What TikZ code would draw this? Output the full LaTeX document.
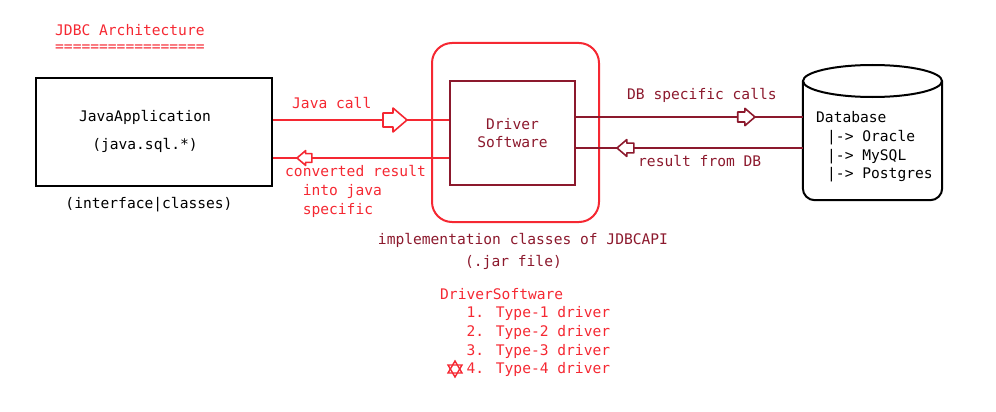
\documentclass[tikz,border=0pt]{standalone}
\usepackage{fontspec}
\setmainfont{DejaVu Sans Mono}
\usetikzlibrary{positioning}
\definecolor{jred}{RGB}{245,40,50}
\definecolor{jdark}{RGB}{140,25,45}

\begin{document}
\begin{tikzpicture}[x=1pt,y=-1pt,
  txt/.style={font=\fontsize{14.6}{18.6}\selectfont,inner sep=0pt},
  redtxt/.style={txt,text=jred},
  darktxt/.style={txt,text=jdark},
  box/.style={draw,line width=2pt,inner sep=0pt},
  wire/.style={line width=2pt},
  hollow/.pic={\draw[fill=white,line width=1.6pt,line join=round]
    (0,0) -- (-14,-12) -- (-14,-7) -- (-24,-7) -- (-24,7) -- (-14,7) -- (-14,12) -- cycle;}
]
\useasboundingbox (0,0) rectangle (996,412);

% Title
\node[redtxt,anchor=west] (title) at (55,30) {JDBC Architecture};
\node[redtxt,anchor=west] (underline) at (55,48) {=================};

% Java application
\node[box,minimum width=236,minimum height=108] (app) at (154,132) {};
\node[txt] (appname) at (145,117) {JavaApplication};
\node[txt] (apppkg) at (145,145) {(java.sql.*)};
\node[txt] (appkind) at (149,205) {(interface|classes)};

% Driver software inside the jar
\node[box,draw=jred,rounded corners=20pt,minimum width=167,minimum height=179] (jar) at (515.5,132.5) {};
\node[box,draw=jdark,minimum width=125,minimum height=104,txt,text=jdark,align=center] (drv) at (512.5,133) {Driver\\Software};
\node[darktxt] (jarlbl) at (523,240) {implementation classes of JDBCAPI};
\node[darktxt] (jarfile) at (513.5,262) {(.jar file)};

% Database cylinder
\node[minimum width=139,minimum height=135,inner sep=0pt] (db) at (872.5,132.5) {};
\draw[wire] (db.west |- 0,81) [rounded corners=12pt] -- (db.south west) -- (db.south east) [sharp corners] -- (db.east |- 0,81);
\draw[wire] (872.5,81) ellipse [x radius=69.5,y radius=16];
\node[txt,align=left,anchor=west] (dblist) at (816,147)
  {Database\\\hspace*{11pt}|-> Oracle\\\hspace*{11pt}|-> MySQL\\\hspace*{11pt}|-> Postgres};

% Calls between application and driver
\draw[wire,jred] ([yshift=12pt]app.east) -- ([yshift=12pt]app.east -| drv.west);
\draw[wire,jred] ([yshift=-26pt]app.east) -- ([yshift=-26pt]app.east -| drv.west);
\pic[jred] at (407,120) {hollow};
\pic[jred,rotate=180,scale=0.62] at (297,158) {hollow};
\node[redtxt,anchor=west] (calllbl) at (292,103) {Java call};
\node[redtxt,align=left,anchor=west] (convlbl) at (285,191.5)
  {converted result\\\hspace*{17.6pt}into java\\\hspace*{17.6pt}specific};

% Calls between driver and database
\draw[wire,jdark] ([yshift=16pt]drv.east) -- ([yshift=16pt]drv.east -| db.west);
\draw[wire,jdark] ([yshift=-15pt]drv.east) -- ([yshift=-15pt]drv.east -| db.west);
\pic[jdark,scale=0.72] at (755,117) {hollow};
\pic[jdark,rotate=180,scale=0.7] at (617,148) {hollow};
\node[darktxt,anchor=west] (dbcalls) at (627,95) {DB specific calls};
\node[darktxt,anchor=west] (dbresult) at (638,161) {result from DB};

% Driver types
\node[redtxt,align=left,anchor=west] (types) at (440,332.5)
  {DriverSoftware\\\hspace*{26.4pt}1. Type-1 driver\\\hspace*{26.4pt}2. Type-2 driver\\\hspace*{26.4pt}3. Type-3 driver\\\hspace*{26.4pt}4. Type-4 driver};
\draw[jred,line width=1.4pt] (455,361) -- (462,373) -- (448,373) -- cycle;
\draw[jred,line width=1.4pt] (455,377) -- (462,365) -- (448,365) -- cycle;
\end{tikzpicture}
\end{document}
